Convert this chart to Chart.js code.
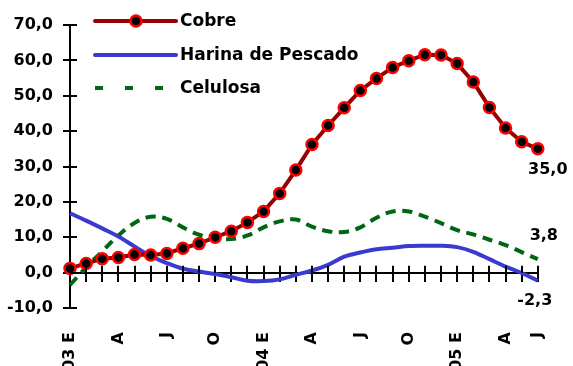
<!DOCTYPE html>
<html>
<head>
<meta charset="utf-8">
<script src="https://cdn.jsdelivr.net/npm/chart.js@4.4.1/dist/chart.umd.min.js"></script>
<style>
  html, body { margin: 0; padding: 0; background: #ffffff; }
  #wrap { position: relative; width: 573px; height: 366px; }
  #c, #ov { position: absolute; left: 0; top: 0; }
  #ov { pointer-events: none; }
</style>
</head>
<body>
<div id="wrap">
  <canvas id="c" width="573" height="366"></canvas>
  <canvas id="ov" width="573" height="366"></canvas>
</div>
<script>
// ---- data ----
const months = ['2003-01','2003-02','2003-03','2003-04','2003-05','2003-06','2003-07','2003-08','2003-09','2003-10','2003-11','2003-12',
                '2004-01','2004-02','2004-03','2004-04','2004-05','2004-06','2004-07','2004-08','2004-09','2004-10','2004-11','2004-12',
                '2005-01','2005-02','2005-03','2005-04','2005-05','2005-06'];
const tickLabels = ['03 E','','','A','','','J','','','O','','',
                    '04 E','','','A','','','J','','','O','','',
                    '05 E','','','A','','J'];
const cobre = [1.2, 2.6, 3.9, 4.3, 5.1, 5.0, 5.4, 6.9, 8.2, 10.0, 11.7, 14.2, 17.3, 22.4, 29.0,
               36.2, 41.6, 46.6, 51.5, 54.9, 58.0, 59.9, 61.6, 61.5, 59.1, 53.9, 46.7, 40.9, 37.0, 35.0];
const harina = [16.8, 14.7, 12.5, 10.2, 7.4, 4.7, 2.7, 1.1, 0.3, -0.4, -1.3, -2.3, -2.4, -1.9, -0.6,
                0.6, 2.2, 4.5, 5.7, 6.6, 7.0, 7.5, 7.6, 7.6, 7.2, 5.9, 3.8, 1.7, -0.1, -2.3];
const celulosa = [-3.5, 1.5, 6.0, 10.5, 14.0, 15.8, 15.2, 12.8, 10.7, 9.8, 9.5, 10.5, 12.8, 14.5, 15.0,
                  13.0, 11.7, 11.5, 12.8, 15.5, 17.3, 17.3, 15.8, 14.0, 12.0, 10.8, 9.3, 7.8, 5.8, 3.8];
const seriesNames = ['Cobre', 'Harina de Pescado', 'Celulosa'];
const yTicks = [-10, 0, 10, 20, 30, 40, 50, 60, 70];

const FONT = 'DejaVu Sans';
const fmt = v => v.toFixed(1).replace('.', ',');

const decorPlugin = {
  id: 'chartDecor',
  afterDatasetsDraw(chart) {
    const ctx = chart.ctx;
    ctx.save();
    // end value labels
    ctx.font = 'bold 16px "' + FONT + '"';
    ctx.fillStyle = '#000';
    ctx.textAlign = 'center';
    ctx.textBaseline = 'middle';
    const offs = [[10, 21], [-3, 20], [6, -23]];
    chart.data.datasets.forEach((ds, di) => {
      const meta = chart.getDatasetMeta(di);
      const last = meta.data[meta.data.length - 1];
      const v = ds.data[ds.data.length - 1];
      ctx.fillText(fmt(v), last.x + offs[di][0], last.y + offs[di][1]);
    });
    // legend
    const lx0 = 95, lx1 = 176, tx = 180;
    const rows = [21, 55, 88];
    chart.data.datasets.forEach((ds, di) => {
      const y = rows[di];
      ctx.save();
      ctx.strokeStyle = ds.borderColor;
      ctx.lineWidth = 4;
      ctx.lineCap = di === 2 ? 'butt' : 'round';
      if (di === 2) ctx.setLineDash([8, 22]);
      ctx.beginPath();
      ctx.moveTo(lx0, y);
      ctx.lineTo(di === 2 ? 170 : lx1, y);
      ctx.stroke();
      ctx.restore();
      if (di === 0) {
        ctx.beginPath();
        ctx.arc(136, y, 5.5, 0, Math.PI * 2);
        ctx.fillStyle = '#000';
        ctx.fill();
        ctx.lineWidth = 2.5;
        ctx.strokeStyle = '#FF0000';
        ctx.stroke();
      }
      ctx.fillStyle = '#000';
      ctx.font = 'bold 17px "' + FONT + '"';
      ctx.textAlign = 'left';
      ctx.textBaseline = 'middle';
      ctx.fillText(ds.label, tx, y + 1);
    });
    ctx.restore();
  }
};

const chart = new Chart(document.getElementById('c'), {
  type: 'line',
  data: {
    labels: months,
    datasets: [
      {
        label: seriesNames[0], data: cobre, xAxisID: 'x', yAxisID: 'y',
        borderColor: '#990000', borderWidth: 4, tension: 0,
        pointRadius: 5.5, pointBorderWidth: 2.5,
        pointBackgroundColor: '#000000', pointBorderColor: '#FF0000'
      },
      {
        label: seriesNames[1], data: harina, xAxisID: 'x', yAxisID: 'y',
        borderColor: '#3A3AD0', borderWidth: 4, tension: 0.35,
        pointRadius: 0
      },
      {
        label: seriesNames[2], data: celulosa, xAxisID: 'x', yAxisID: 'y',
        borderColor: '#006614', borderWidth: 4, tension: 0.4,
        borderDash: [10, 7], pointRadius: 0
      }
    ]
  },
  options: {
    responsive: false,
    animation: false,
    devicePixelRatio: 1,
    layout: { padding: { top: 25, right: 30, left: 0, bottom: 0 } },
    plugins: { legend: { display: false }, tooltip: { enabled: false } },
    scales: {
      x: {
        type: 'category',
        offset: false,
        grid: { display: false },
        border: { display: false },
        ticks: {
          autoSkip: false, maxRotation: 90, minRotation: 90, padding: 16,
          color: '#000', font: { family: FONT, weight: 'bold', size: 16 },
          callback: (v, i) => tickLabels[i]
        },
        afterFit: s => { s.height = 58; }
      },
      x2: {
        type: 'category',
        position: { y: 0 },
        offset: false,
        grid: { display: true, drawOnChartArea: false, drawTicks: true, tickLength: 8, color: '#000', lineWidth: 2 },
        border: { display: true, color: '#000', width: 2 },
        ticks: { display: false, autoSkip: false }
      },
      y: {
        min: yTicks[0], max: yTicks[yTicks.length - 1],
        grid: { display: true, drawOnChartArea: false, drawTicks: true, tickLength: 7, color: '#000', lineWidth: 2 },
        border: { display: true, color: '#000', width: 2 },
        ticks: {
          stepSize: 10, padding: 10,
          color: '#000', font: { family: FONT, weight: 'bold', size: 16 },
          callback: v => fmt(v)
        },
        afterFit: s => { s.width = 70; }
      }
    }
  },
  plugins: [decorPlugin]
});

// inner halves of the crossing tick marks, placed through the chart's own scales
(function drawInnerTicks() {
  const ov = document.getElementById('ov').getContext('2d');
  const xs = chart.scales.x, ys = chart.scales.y;
  const x0 = xs.getPixelForValue(0);
  const yZero = ys.getPixelForValue(0);
  ov.strokeStyle = '#000';
  ov.lineWidth = 2;
  ov.beginPath();
  for (let k = 0; k < yTicks.length; k++) {
    const py = Math.round(ys.getPixelForValue(yTicks[k]));
    ov.moveTo(x0, py); ov.lineTo(x0 + 7, py);
  }
  for (let i = 0; i < months.length; i++) {
    const px = Math.round(xs.getPixelForValue(i));
    ov.moveTo(px, yZero); ov.lineTo(px, yZero - 7);
  }
  ov.stroke();
})();
</script>
</body>
</html>
